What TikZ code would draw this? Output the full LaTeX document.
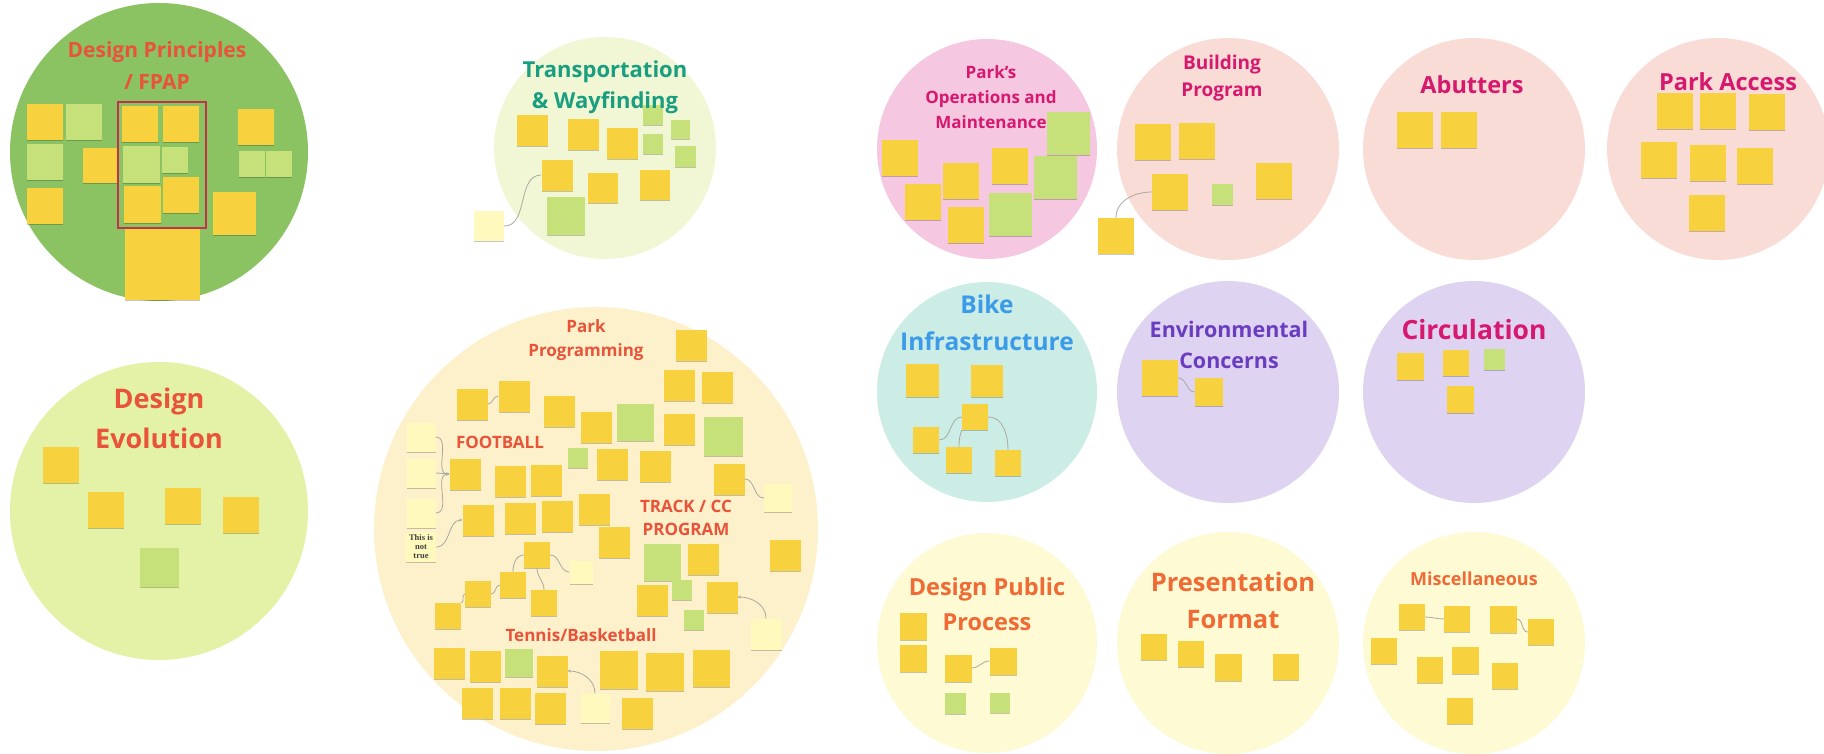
\documentclass[tikz,border=0pt]{standalone}
\usepackage{fontspec}
\setmainfont{Open Sans}
\newfontfamily\notefont{Liberation Serif}
\usetikzlibrary{shadows,arrows.meta}

\definecolor{zoneGreen}{HTML}{8BC262}
\definecolor{zoneLime}{HTML}{E3F2A6}
\definecolor{zoneMint}{HTML}{F1F7D4}
\definecolor{zonePeach}{HTML}{FCF1CA}
\definecolor{zonePink}{HTML}{F6C7E0}
\definecolor{zoneRose}{HTML}{FADCD7}
\definecolor{zoneTeal}{HTML}{CBEDE5}
\definecolor{zoneLilac}{HTML}{DED3F0}
\definecolor{zoneCream}{HTML}{FDFAD4}
\definecolor{headRed}{HTML}{E8533A}
\definecolor{headTeal}{HTML}{1A9E80}
\definecolor{headMagenta}{HTML}{D6186E}
\definecolor{headBlue}{HTML}{3B9BE8}
\definecolor{headPurple}{HTML}{6A3CC0}
\definecolor{headOrange}{HTML}{EF6A35}
\definecolor{stickyYellow}{HTML}{F8D13F}
\definecolor{stickyGreen}{HTML}{C6E07A}
\definecolor{stickyPale}{HTML}{FFF9BE}
\definecolor{frameRed}{HTML}{C2334D}
\definecolor{linkGrey}{HTML}{A9A9A0}

\tikzset{
  zone/.style={circle, inner sep=0pt, minimum size=#1},
  heading/.style 2 args={font=\bfseries\fontsize{#1}{#2}\selectfont, align=center, inner sep=0pt},
  sticky/.style={inner sep=0pt, minimum size=#1,
    drop shadow={shadow xshift=0pt, shadow yshift=-1.3pt, opacity=0.22, fill=black}},
  yel/.style={sticky=#1, fill=stickyYellow}, yel/.default=31,
  grn/.style={sticky=#1, fill=stickyGreen}, grn/.default=31,
  pal/.style={sticky=#1, fill=stickyPale}, pal/.default=30,
  link/.style={draw=linkGrey, line width=0.8pt},
  tip/.style={link, -{Stealth[length=3pt,width=3pt]}},
}

\begin{document}
\begin{tikzpicture}[x=1pt,y=-1pt]
\fill[white] (0,0) rectangle (1824,753);
\useasboundingbox (0,0) rectangle (1824,753);

%Shape: Circle
\node[zone=298, fill=zoneGreen] (cDP) at (159,152) {};
\node[zone=222, fill=zoneMint] (cTW) at (605,148) {};
\node[zone=298, fill=zoneLime] (cDE) at (159,511) {};
\node[zone=444, fill=zonePeach] (cPP) at (596,529) {};
\node[zone=220, fill=zonePink] (cPO) at (987,149) {};
\node[zone=222, fill=zoneRose] (cBP) at (1228,149) {};
\node[zone=222, fill=zoneRose] (cAB) at (1474,149) {};
\node[zone=222, fill=zoneRose] (cPA) at (1718,149) {};
\node[zone=220, fill=zoneTeal] (cBI) at (987,392) {};
\node[zone=222, fill=zoneLilac] (cEC) at (1228,392) {};
\node[zone=222, fill=zoneLilac] (cCI) at (1474,392) {};
\node[zone=220, fill=zoneCream] (cDPP) at (987,643) {};
\node[zone=222, fill=zoneCream] (cPF) at (1228,643) {};
\node[zone=222, fill=zoneCream] (cMI) at (1474,643) {};

% Sticky: Design Principles / FPAP
\node[yel=36] (dp1) at (45,122) {};
\node[grn=36] (dp2) at (84,122) {};
\node[grn=36] (dp3) at (45,162) {};
\node[yel=35] (dp4) at (100,165) {};
\node[yel=36] (dp5) at (45,206) {};
\node[yel=36] (dp6) at (140,124) {};
\node[yel=36] (dp7) at (181,124) {};
\node[grn=37] (dp8) at (141,164) {};
\node[grn=26] (dp9) at (175,160) {};
\node[yel=36] (dp10) at (181,195) {};
\node[yel=37] (dp11) at (142,204) {};
\node[yel, minimum width=75, minimum height=72] (dp12) at (162,264) {};
\node[yel=36] (dp13) at (256,127) {};
\node[grn=26] (dp14) at (252,164) {};
\node[grn=26] (dp15) at (279,164) {};
\node[yel=43] (dp16) at (234,213) {};
\draw[frameRed, line width=1.5pt] (118,102) rectangle (206,228);

% Sticky: Transportation & Wayfinding
\node[yel] (tw1) at (532,130) {};
\node[yel] (tw2) at (583,134) {};
\node[yel] (tw3) at (622,143) {};
\node[grn=20] (tw4) at (653,115) {};
\node[grn=20] (tw5) at (653,144) {};
\node[grn=19] (tw6) at (680,129) {};
\node[grn=21] (tw7) at (685,156) {};
\node[yel] (tw8) at (557,175) {};
\node[yel=30] (tw9) at (603,188) {};
\node[yel=30] (tw10) at (655,185) {};
\node[grn=38] (tw11) at (566,216) {};
\node[pal] (tw12) at (489,226) {};
\draw[link] (tw12.east) to[out=0,in=180] (tw8.west);

% Sticky: Design Evolution
\node[yel=36] (de1) at (61,465) {};
\node[yel=36] (de2) at (106,510) {};
\node[yel=36] (de3) at (183,506) {};
\node[yel=36] (de4) at (241,515) {};
\node[grn=39] (de5) at (159,567) {};

% Sticky: Park Programming
\node[yel] (pp1) at (691,345) {};
\node[yel] (pp2) at (679,385) {};
\node[yel] (pp3) at (717,387) {};
\node[yel] (pp4) at (472,404) {};
\node[yel] (pp5) at (514,396) {};
\node[yel] (pp6) at (559,411) {};
\node[yel] (pp7) at (596,427) {};
\node[grn=37] (pp8) at (635,422) {};
\node[yel] (pp9) at (679,429) {};
\node[grn=39] (pp10) at (723,436) {};
\node[grn=20] (pp11) at (578,458) {};
\node[yel] (pp12) at (612,464) {};
\node[yel] (pp13) at (655,466) {};
\node[yel] (pp14) at (465,474) {};
\node[yel] (pp15) at (510,481) {};
\node[yel] (pp16) at (546,480) {};
\node[yel] (pp17) at (729,479) {};
\node[pal=29] (pp18) at (421,437) {};
\node[pal=29] (pp19) at (421,473) {};
\node[pal=29] (pp20) at (421,513) {};
\node[pal=30, text=black!75, font=\notefont\bfseries\fontsize{8.5}{9}\selectfont, align=center] (pp21) at (421,547) {This is\\not\\true};
\node[yel] (pp22) at (478,520) {};
\node[yel] (pp23) at (520,518) {};
\node[yel] (pp24) at (557,516) {};
\node[yel] (pp25) at (594,509) {};
\node[yel] (pp26) at (614,542) {};
\node[yel=26] (pp27) at (537,555) {};
\node[pal=23] (pp28) at (581,572) {};
\node[yel=26] (pp29) at (513,585) {};
\node[yel=26] (pp30) at (478,594) {};
\node[yel=26] (pp31) at (544,603) {};
\node[yel=26] (pp32) at (448,616) {};
\node[grn=37] (pp33) at (662,562) {};
\node[yel] (pp34) at (703,559) {};
\node[yel] (pp35) at (785,555) {};
\node[pal=28] (pp36) at (778,498) {};
\node[grn=20] (pp37) at (682,590) {};
\node[yel] (pp38) at (652,600) {};
\node[yel] (pp39) at (722,597) {};
\node[grn=20] (pp40) at (694,620) {};
\node[pal=31] (pp41) at (766,634) {};
\node[yel] (pp42) at (449,663) {};
\node[yel] (pp43) at (485,666) {};
\node[grn=28] (pp44) at (519,663) {};
\node[yel] (pp45) at (552,671) {};
\node[yel=38] (pp46) at (619,670) {};
\node[yel=38] (pp47) at (665,672) {};
\node[yel=37] (pp48) at (711,668) {};
\node[yel] (pp49) at (477,703) {};
\node[yel] (pp50) at (515,703) {};
\node[yel] (pp51) at (550,708) {};
\node[pal=29] (pp52) at (595,708) {};
\node[yel] (pp53) at (637,713) {};
% Connector
\draw[link] (pp4.east) to[out=0,in=180] (pp5.west);
\draw[tip] (pp18.east) to[out=0,in=180] (pp14.west);
\draw[tip] (pp19.east) to[out=0,in=180] (pp14.west);
\draw[tip] (pp20.east) to[out=0,in=180] (pp14.west);
\draw[tip] (pp21.east) to[out=0,in=180] (pp22.west);
\draw[link] (pp27.east) to[out=0,in=180] (pp28.west);
\draw[link] (pp27.west) to[out=180,in=90] (pp29.north);
\draw[link] (pp27.south) to[out=-90,in=90] (pp31.north);
\draw[link] (pp29.west) to[out=180,in=0] (pp30.east);
\draw[link] (pp30.west) to[out=180,in=0] (pp32.north east);
\draw[link] (pp17.east) to[out=0,in=180] (pp36.west);
\draw[tip] (pp41.north) to[out=90,in=0] (pp39.east);
\draw[tip] (pp52.north) to[out=90,in=0] (pp45.east);

% Sticky: Park's Operations and Maintenance
\node[yel=36] (po1) at (900,158) {};
\node[yel=36] (po2) at (923,202) {};
\node[yel=36] (po3) at (961,181) {};
\node[yel=36] (po4) at (966,225) {};
\node[yel=36] (po5) at (1010,166) {};
\node[grn=43] (po6) at (1010,214) {};
\node[grn=43] (po7) at (1055,177) {};
\node[grn=43] (po8) at (1068,133) {};
\node[yel=36] (po9) at (1116,236) {};

% Sticky: Building Program
\node[yel=36] (bp1) at (1153,142) {};
\node[yel=36] (bp2) at (1197,141) {};
\node[yel=36] (bp3) at (1170,192) {};
\node[grn=21] (bp4) at (1222,194) {};
\node[yel=36] (bp5) at (1274,181) {};
\draw[link] (po9.north) to[out=90,in=180] (bp3.west);

% Sticky: Abutters
\node[yel=36] (ab1) at (1415,130) {};
\node[yel=36] (ab2) at (1459,130) {};

% Sticky: Park Access
\node[yel=36] (pa1) at (1675,111) {};
\node[yel=36] (pa2) at (1718,111) {};
\node[yel=36] (pa3) at (1767,112) {};
\node[yel=36] (pa4) at (1659,160) {};
\node[yel=36] (pa5) at (1708,163) {};
\node[yel=36] (pa6) at (1755,166) {};
\node[yel=36] (pa7) at (1707,213) {};

% Sticky: Bike Infrastructure
\node[yel=33] (bi1) at (922,380) {};
\node[yel=32] (bi2) at (987,381) {};
\node[yel=26] (bi3) at (975,417) {};
\node[yel=26] (bi4) at (926,440) {};
\node[yel=26] (bi5) at (959,460) {};
\node[yel=26] (bi6) at (1008,463) {};
\draw[link] (bi3.west) to[out=180,in=0] (bi4.east);
\draw[link] (bi3.south west) to[out=-110,in=90] (bi5.north);
\draw[link] (bi3.east) to[out=0,in=90] (bi6.north);

% Sticky: Environmental Concerns
\node[yel=36] (ec1) at (1160,378) {};
\node[yel=28] (ec2) at (1209,392) {};
\draw[link] (ec1.east) to[out=0,in=180] (ec2.west);

% Sticky: Circulation
\node[yel=27] (ci1) at (1410,366) {};
\node[yel=26] (ci2) at (1456,363) {};
\node[grn=21] (ci3) at (1494,359) {};
\node[yel=27] (ci4) at (1460,399) {};

% Sticky: Design Public Process
\node[yel=27] (dpp1) at (913,626) {};
\node[yel=27] (dpp2) at (913,658) {};
\node[yel=27] (dpp3) at (958,668) {};
\node[yel=27] (dpp4) at (1003,661) {};
\node[grn=21] (dpp5) at (955,703) {};
\node[grn=20] (dpp6) at (1000,703) {};
\draw[link] (dpp3.east) to[out=0,in=180] (dpp4.west);

% Sticky: Presentation Format
\node[yel=26] (pf1) at (1154,647) {};
\node[yel=26] (pf2) at (1191,654) {};
\node[yel=27] (pf3) at (1228,667) {};
\node[yel=26] (pf4) at (1286,667) {};

% Sticky: Miscellaneous
\node[yel=26] (mi1) at (1412,617) {};
\node[yel=26] (mi2) at (1457,619) {};
\node[yel=27] (mi3) at (1503,619) {};
\node[yel=26] (mi4) at (1541,632) {};
\node[yel=26] (mi5) at (1384,651) {};
\node[yel=27] (mi6) at (1465,660) {};
\node[yel=26] (mi7) at (1430,670) {};
\node[yel=26] (mi8) at (1505,676) {};
\node[yel=26] (mi9) at (1460,711) {};
\draw[link] (mi1.east) to[out=0,in=180] (mi2.west);
\draw[link] (mi3.east) to[out=0,in=180] (mi4.west);

% Text Node
\node[heading={21}{32}, text=headRed] (tDP) at (157,66) {Design Principles\\/ FPAP};
\node[heading={22}{31}, text=headTeal] (tTW) at (605,87) {Transportation\\\& Wayfinding};
\node[heading={27}{40}, text=headRed] (tDE) at (159,418) {Design\\Evolution};
\node[heading={17}{24}, text=headRed] (tPP) at (586,340) {Park\\Programming};
\node[heading={17}{23}, text=headRed] (tFB) at (500,442) {FOOTBALL};
\node[heading={17}{23}, text=headRed] (tTR) at (686,518) {TRACK / CC\\PROGRAM};
\node[heading={17}{23}, text=headRed] (tTB) at (581,635) {Tennis/Basketball};
\node[heading={17}{25}, text=headMagenta] (tPO) at (991,97) {Park's\\Operations and\\Maintenance};
\node[heading={19}{27}, text=headMagenta] (tBP) at (1222,78) {Building\\Program};
\node[heading={23.5}{30}, text=headMagenta] (tAB) at (1472,85) {Abutters};
\node[heading={23.5}{30}, text=headMagenta] (tPA) at (1728,82) {Park Access};
\node[heading={24.5}{37}, text=headBlue] (tBI) at (987,323) {Bike\\Infrastructure};
\node[heading={21.5}{31}, text=headPurple] (tEC) at (1229,345) {Environmental\\Concerns};
\node[heading={26.5}{32}, text=headMagenta] (tCI) at (1474,330) {Circulation};
\node[heading={23.5}{35}, text=headOrange] (tDPP) at (987,604) {Design Public\\Process};
\node[heading={25.5}{37}, text=headOrange] (tPF) at (1233,600) {Presentation\\Format};
\node[heading={18}{24}, text=headOrange] (tMI) at (1474,579) {Miscellaneous};

\end{tikzpicture}
\end{document}
